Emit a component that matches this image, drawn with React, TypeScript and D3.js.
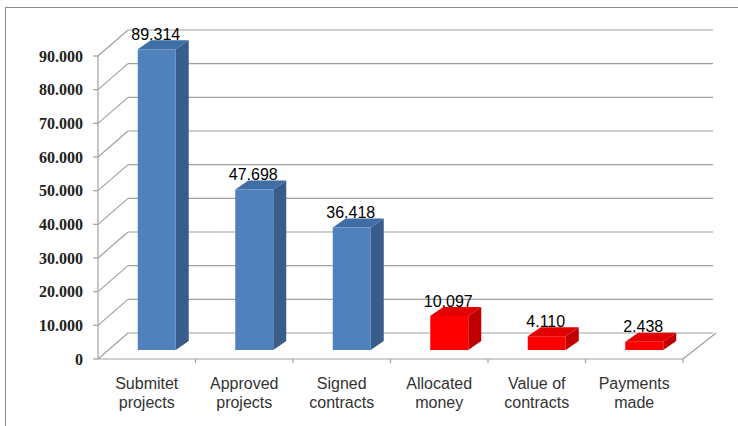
import React from "react";
import * as d3 from "d3";

const categories = [
  ["Submitet", "projects"],
  ["Approved", "projects"],
  ["Signed", "contracts"],
  ["Allocated", "money"],
  ["Value of", "contracts"],
  ["Payments", "made"],
];
const values = [89314, 47698, 36418, 10097, 4110, 2438];
const valueLabels = ["89.314", "47.698", "36.418", "10.097", "4.110", "2.438"];
const barGroups = ["blue", "blue", "blue", "red", "red", "red"];
const yTicks = [0, 10000, 20000, 30000, 40000, 50000, 60000, 70000, 80000, 90000];
const yTickLabels = ["0", "10.000", "20.000", "30.000", "40.000", "50.000", "60.000", "70.000", "80.000", "90.000"];

const W = 738;
const H = 426;
const left = 98;
const right = 683;
const baseY = 359;
const topY = 56;
const wallDx = 30;
const wallDy = -26;
const barOffDx = 10;
const barOffDy = -9;
const barDx = 13;
const barDy = -9;
const barW = 38;

const palette: Record<string, { front: string; side: string; top: string }> = {
  blue: { front: "#4F81BD", side: "#385D8A", top: "#3F6DA6" },
  red: { front: "#FF0000", side: "#C00000", top: "#E30000" },
};

export default function App() {
  const idx = categories.map((_, i) => String(i));
  const x = d3.scaleBand<string>().domain(idx).range([left, right]).padding(0);
  const y = d3.scaleLinear().domain([0, 90000]).range([baseY, topY]);
  const gridColor = "#A0A0A0";

  return (
    <svg width={W} height={H} style={{ position: "absolute", left: 0, top: 0 }}>
      <rect x={0} y={0} width={W} height={H} fill="#fff" />
      <rect x={5.5} y={7.5} width={740} height={430} fill="none" stroke="#8C8C8C" strokeWidth={1} />
      {/* back wall gridlines & left wall diagonals */}
      {yTicks.map((t, i) => {
        const yy = y(t);
        return (
          <g key={"g" + i}>
            <line x1={left + wallDx} x2={right + wallDx} y1={yy + wallDy} y2={yy + wallDy} stroke={gridColor} strokeWidth={1.2} />
            <line x1={left} y1={yy} x2={left + wallDx} y2={yy + wallDy} stroke={gridColor} strokeWidth={1.2} />
            <line x1={left - 5} x2={left} y1={yy} y2={yy} stroke={gridColor} strokeWidth={1.2} />
            <text
              x={83}
              y={yy + 5.5}
              textAnchor="end"
              fontFamily="'Liberation Serif', serif"
              fontWeight="bold"
              fontSize={16}
              fill="#222"
            >
              {yTickLabels[i]}
            </text>
          </g>
        );
      })}
      {/* axis & floor */}
      <line x1={left} x2={left} y1={topY} y2={baseY} stroke={gridColor} strokeWidth={1.2} />
      <line x1={left} x2={right} y1={baseY} y2={baseY} stroke={gridColor} strokeWidth={1.2} />
      <line x1={right} y1={baseY} x2={right + wallDx + 3} y2={baseY + wallDy} stroke={gridColor} strokeWidth={1.2} />
      {idx.map((k, i) => (
        <line key={"ct" + i} x1={x(k)! + x.bandwidth()} x2={x(k)! + x.bandwidth()} y1={baseY} y2={baseY + 4} stroke={gridColor} strokeWidth={1.2} />
      ))}
      {/* bars */}
      {values.map((v, i) => {
        const c = x(idx[i])! + x.bandwidth() / 2 + barOffDx;
        const x0 = c - barW / 2;
        const x1 = c + barW / 2;
        const yb = y(0) + barOffDy;
        const yt = y(v) + barOffDy;
        const col = palette[barGroups[i]];
        const front = `M${x0},${yb}L${x1},${yb}L${x1},${yt}L${x0},${yt}Z`;
        const side = `M${x1},${yb}L${x1 + barDx},${yb + barDy}L${x1 + barDx},${yt + barDy}L${x1},${yt}Z`;
        const top = `M${x0},${yt}L${x1},${yt}L${x1 + barDx},${yt + barDy}L${x0 + barDx},${yt + barDy}Z`;
        return (
          <g key={"b" + i}>
            <path d={side} fill={col.side} />
            <path d={top} fill={col.top} />
            <path d={front} fill={col.front} />
            <text
              x={c - 1}
              y={yt + barDy - 0.5}
              textAnchor="middle"
              fontFamily="'Liberation Sans', Arial, sans-serif"
              fontSize={16}
              fill="#000"
            >
              {valueLabels[i]}
            </text>
          </g>
        );
      })}
      {/* category labels */}
      {categories.map((lines, i) => {
        const c = x(idx[i])! + x.bandwidth() / 2;
        return (
          <text
            key={"c" + i}
            x={c}
            y={389}
            textAnchor="middle"
            fontFamily="'Liberation Sans', Arial, sans-serif"
            fontSize={16}
            fill="#333"
          >
            {lines.map((l, j) => (
              <tspan key={j} x={c} dy={j === 0 ? 0 : 19}>
                {l}
              </tspan>
            ))}
          </text>
        );
      })}
    </svg>
  );
}
